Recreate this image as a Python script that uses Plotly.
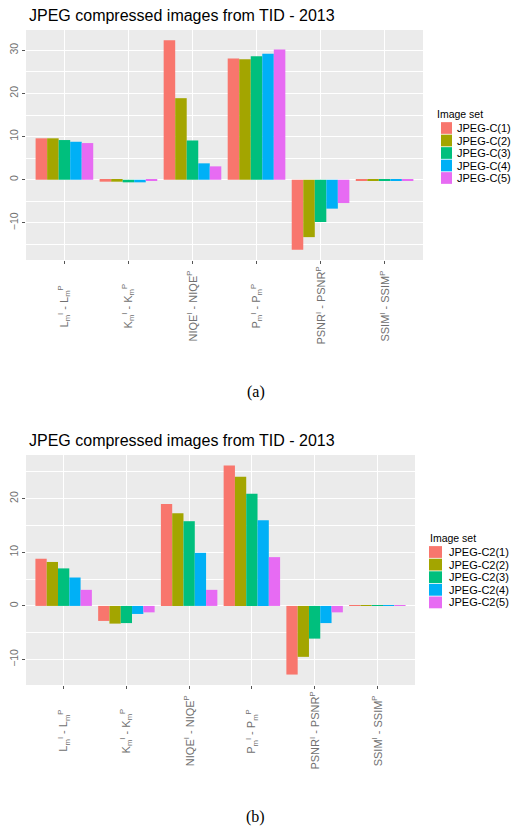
import plotly.graph_objects as go

W, H = 513, 830

# ---------------- data ----------------
categories = ["L", "K", "NIQE", "P", "PSNR", "SSIM"]
cat_labels = [
    "L<sub>m</sub><sup>I</sup> - L<sub>m</sub><sup>P</sup>",
    "K<sub>m</sub><sup>I</sup> - K<sub>m</sub><sup>P</sup>",
    "NIQE<sup>I</sup> - NIQE<sup>P</sup>",
    "P<sub>m</sub><sup>I</sup> - P<sub>m</sub><sup>P</sup>",
    "PSNR<sup>I</sup> - PSNR<sup>P</sup>",
    "SSIM<sup>I</sup> - SSIM<sup>P</sup>",
]
title_text = "JPEG compressed images from TID - 2013"
legend_title = "Image set"

names_a = ["JPEG-C(1)", "JPEG-C(2)", "JPEG-C(3)", "JPEG-C(4)", "JPEG-C(5)"]
a_c1 = [9.6, -0.45, 32.3, 28.1, -16.2, -0.3]
a_c2 = [9.6, -0.45, 18.9, 27.9, -13.3, -0.15]
a_c3 = [9.2, -0.6, 9.1, 28.6, -9.8, -0.1]
a_c4 = [8.8, -0.6, 3.8, 29.2, -6.7, -0.1]
a_c5 = [8.5, -0.3, 3.1, 30.2, -5.4, -0.1]

names_b = ["JPEG-C2(1)", "JPEG-C2(2)", "JPEG-C2(3)", "JPEG-C2(4)", "JPEG-C2(5)"]
b_c1 = [8.8, -2.8, 19.0, 26.2, -12.8, 0.1]
b_c2 = [8.2, -3.3, 17.3, 24.1, -9.5, 0.1]
b_c3 = [7.0, -3.2, 15.8, 20.9, -6.1, 0.05]
b_c4 = [5.3, -1.5, 9.9, 16.0, -3.2, 0.05]
b_c5 = [3.0, -1.2, 3.0, 9.1, -1.2, 0.05]

colors = ["#F8766D", "#A3A500", "#00BF7D", "#00B0F6", "#E76BF3"]

series_a = [a_c1, a_c2, a_c3, a_c4, a_c5]
series_b = [b_c1, b_c2, b_c3, b_c4, b_c5]

# ---------------- helpers ----------------
def px(xp):
    return xp / W

def py(yp):
    return 1 - yp / H

FONT = "Liberation Sans, Arial, sans-serif"
SERIF = "Liberation Serif, Times New Roman, serif"
TICKGREY = "#707070"

fig = go.Figure()

for i, (nm, vals) in enumerate(zip(names_a, series_a)):
    fig.add_trace(go.Bar(x=categories, y=vals, name=nm, marker_color=colors[i],
                         marker_line_width=0, offsetgroup=str(i),
                         xaxis="x", yaxis="y", showlegend=False))
for i, (nm, vals) in enumerate(zip(names_b, series_b)):
    fig.add_trace(go.Bar(x=categories, y=vals, name=nm, marker_color=colors[i],
                         marker_line_width=0, offsetgroup=str(i),
                         xaxis="x2", yaxis="y2", showlegend=False))

def xax(domain, anchor):
    return dict(domain=domain, anchor=anchor, type="category",
                range=[-0.6, 5.6], showgrid=True, gridcolor="white", gridwidth=1.1,
                showticklabels=False, ticks="outside", ticklen=3,
                tickcolor="#555555", tickwidth=1, showline=False, zeroline=False,
                fixedrange=True)

def yax(domain, anchor, rng):
    return dict(domain=domain, anchor=anchor, range=rng, dtick=10, tick0=0,
                showgrid=True, gridcolor="white", gridwidth=1.1,
                minor=dict(dtick=5, tick0=0, showgrid=True, gridcolor="white",
                           gridwidth=0.5, ticks=""),
                ticks="outside", ticklen=3, tickcolor="#555555", tickwidth=1,
                tickangle=-90, tickfont=dict(family=FONT, size=10.5, color=TICKGREY),
                showline=False, zeroline=False, fixedrange=True)

fig.update_layout(
    width=W, height=H,
    margin=dict(l=0, r=0, t=0, b=0),
    paper_bgcolor="white",
    plot_bgcolor="#EBEBEB",
    barmode="group", bargap=0.1, bargroupgap=0,
    showlegend=False,
    xaxis=xax([px(26), px(423)], "y"),
    yaxis=yax([py(260), py(30)], "x", [-18.6, 34.7]),
    xaxis2=xax([px(26), px(415)], "y2"),
    yaxis2=yax([py(685), py(455)], "x2", [-14.75, 28.15]),
)

annotations = []
shapes = []

# titles
for ty in (15, 440):
    annotations.append(dict(text=title_text, x=px(27), y=py(ty), xref="paper", yref="paper",
                            xanchor="left", yanchor="middle", showarrow=False,
                            font=dict(family=FONT, size=16, color="black")))

# category labels (rotated, centred under ticks)
for xa, yc in (("x", 306), ("x2", 731)):
    for c, lab in zip(categories, cat_labels):
        annotations.append(dict(text=lab, x=c, y=py(yc), xref=xa, yref="paper",
                                textangle=-90, showarrow=False, xanchor="center",
                                yanchor="middle",
                                font=dict(family=FONT, size=11, color=TICKGREY)))

# legends
def add_legend(names, title_x, title_y, key_x0, key_x1, text_x, item_y0, step):
    annotations.append(dict(text=legend_title, x=px(title_x), y=py(title_y),
                            xref="paper", yref="paper", xanchor="left", yanchor="middle",
                            showarrow=False, font=dict(family=FONT, size=10.5, color="black")))
    for i, nm in enumerate(names):
        yc = item_y0 + i * step
        shapes.append(dict(type="rect", xref="paper", yref="paper",
                           x0=px(key_x0), x1=px(key_x1),
                           y0=py(yc + step / 2 - 0.4), y1=py(yc - step / 2 + 0.4),
                           fillcolor=colors[i], line=dict(width=0)))
        annotations.append(dict(text=nm, x=px(text_x), y=py(yc), xref="paper", yref="paper",
                                xanchor="left", yanchor="middle", showarrow=False,
                                font=dict(family=FONT, size=11, color="black")))

add_legend(names_a, 435, 114, 441, 452, 455, 128, 12.5)
add_legend(names_b, 428, 538, 429, 442, 447, 552, 12.6)

# captions
annotations.append(dict(text="(a)", x=px(256), y=py(392), xref="paper", yref="paper",
                        showarrow=False, xanchor="center", yanchor="middle",
                        font=dict(family=SERIF, size=16, color="black")))
annotations.append(dict(text="(b)", x=px(255), y=py(817), xref="paper", yref="paper",
                        showarrow=False, xanchor="center", yanchor="middle",
                        font=dict(family=SERIF, size=16, color="black")))

fig.update_layout(annotations=annotations, shapes=shapes)

fig.write_html("out.html")
